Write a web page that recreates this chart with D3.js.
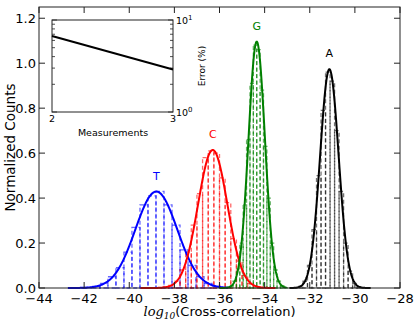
<!DOCTYPE html>
<html>
<head>
<meta charset="utf-8">
<script src="https://cdn.jsdelivr.net/npm/d3@7"></script>
<style>
body { margin: 0; background: #fff; }
text { font-family: "DejaVu Sans", sans-serif; }
</style>
</head>
<body>
<svg id="fig" width="415" height="321"></svg>
<script>
// bases and fitted gaussians
const bases = ["T", "C", "G", "A"];
const colors = ["#0000ff", "#ff0000", "#008000", "#000000"];
const fitMu = [-38.8, -36.3, -34.35, -31.13];
const fitSigma = [0.93, 0.65, 0.364, 0.41];

// histogram bins (first edge, width, heights)
const binStart = [-42.72, -39.5, -36.0, -32.9];
const binWidth = [0.355, 0.25, 0.15, 0.2];
const countsT = [0, 0.001, 0.003, 0.007, 0.02, 0.05, 0.09, 0.16, 0.27, 0.37, 0.41, 0.43, 0.37, 0.28, 0.17, 0.10, 0.05, 0.02, 0.008, 0.003];
const countsC = [0, 0, 0, 0.001, 0.004, 0.012, 0.03, 0.08, 0.16, 0.28, 0.42, 0.58, 0.61, 0.60, 0.49, 0.38, 0.22, 0.12, 0.055, 0.02, 0.008, 0.002, 0.001, 0];
const countsG = [0, 0.001, 0.003, 0.01, 0.03, 0.085, 0.2, 0.37, 0.66, 0.91, 1.08, 1.06, 0.88, 0.63, 0.4, 0.2, 0.08, 0.03, 0.01, 0.002];
const countsA = [0, 0.002, 0.008, 0.03, 0.1, 0.26, 0.5, 0.79, 0.96, 0.92, 0.7, 0.43, 0.2, 0.075, 0.02, 0.005, 0.001, 0];
const counts = [countsT, countsC, countsG, countsA];

const xTicks = [-44, -42, -40, -38, -36, -34, -32, -30, -28];
const yTicks = [0, 0.2, 0.4, 0.6, 0.8, 1.0, 1.2];

// inset: error vs measurements
const measurements = [2, 3];
const errorPct = [6.7, 2.9];

const svg = d3.select("#fig");
const axL = 39, axR = 400, axT = 7, axB = 288;

const x = d3.scaleLinear().domain([-44, -28]).range([axL, axR]);
const y = d3.scaleLinear().domain([0, 1.25]).range([axB, axT]);

// histograms as dashed outlined bars
bases.forEach((b, i) => {
  const bars = counts[i].map((h, k) => ({x0: binStart[i] + k * binWidth[i], h: h}));
  svg.append("g")
    .selectAll("rect")
    .data(bars)
    .join("rect")
    .attr("x", d => x(d.x0))
    .attr("y", d => y(d.h))
    .attr("width", x(binStart[i] + binWidth[i]) - x(binStart[i]))
    .attr("height", d => y(0) - y(d.h))
    .attr("fill", "none")
    .attr("stroke", colors[i])
    .attr("stroke-opacity", i === 3 ? 0.55 : 0.6)
    .attr("stroke-width", 1.3)
    .attr("stroke-dasharray", "4,2.5");
});

// fitted curves
bases.forEach((b, i) => {
  const lo = binStart[i], hi = binStart[i] + binWidth[i] * counts[i].length;
  const pts = d3.range(lo, hi, 0.02).map(v => {
    const z = (v - fitMu[i]) / fitSigma[i];
    return [v, Math.exp(-z * z / 2) / (fitSigma[i] * Math.sqrt(2 * Math.PI))];
  });
  svg.append("path")
    .attr("d", d3.line().x(d => x(d[0])).y(d => y(d[1]))(pts))
    .attr("fill", "none")
    .attr("stroke", colors[i])
    .attr("stroke-width", 2);

  const peak = 1 / (fitSigma[i] * Math.sqrt(2 * Math.PI));
  svg.append("text")
    .attr("x", x(fitMu[i]))
    .attr("y", y(peak) - 12)
    .attr("text-anchor", "middle")
    .style("font-size", "11px")
    .style("fill", colors[i])
    .text(b);
});

// axes frame and inward ticks
svg.append("rect")
  .attr("x", axL).attr("y", axT)
  .attr("width", axR - axL).attr("height", axB - axT)
  .attr("fill", "none").attr("stroke", "#222").attr("stroke-width", 1);

const tk = svg.append("g").attr("stroke", "#222").attr("stroke-width", 1);
xTicks.forEach(t => {
  tk.append("line").attr("x1", x(t)).attr("x2", x(t)).attr("y1", axB).attr("y2", axB - 6);
  tk.append("line").attr("x1", x(t)).attr("x2", x(t)).attr("y1", axT).attr("y2", axT + 6);
});
yTicks.forEach(t => {
  tk.append("line").attr("x1", axL).attr("x2", axL + 6).attr("y1", y(t)).attr("y2", y(t));
  tk.append("line").attr("x1", axR).attr("x2", axR - 6).attr("y1", y(t)).attr("y2", y(t));
});

svg.append("g").selectAll("text")
  .data(xTicks).join("text")
  .attr("x", d => x(d)).attr("y", axB + 14.5)
  .attr("text-anchor", "middle")
  .style("font-size", "13px")
  .text(d => d < 0 ? "\u2212" + Math.abs(d) : d);

svg.append("g").selectAll("text")
  .data(yTicks).join("text")
  .attr("x", axL - 3).attr("y", d => y(d) + 4.5)
  .attr("text-anchor", "end")
  .style("font-size", "13px")
  .text(d => d.toFixed(1));

// axis labels
svg.append("text")
  .attr("transform", `translate(15,${(axT + axB) / 2}) rotate(-90)`)
  .attr("text-anchor", "middle")
  .style("font-size", "13.5px")
  .text("Normalized Counts");

const xl = svg.append("text")
  .attr("x", (axL + axR) / 2).attr("y", 316)
  .attr("text-anchor", "middle")
  .style("font-size", "13px");
xl.append("tspan").style("font-family", "DejaVu Serif").style("font-style", "italic").text("log");
xl.append("tspan").attr("dy", 3).style("font-size", "9px").style("font-family", "DejaVu Serif").style("font-style", "italic").text("10");
xl.append("tspan").attr("dy", -3).text("(Cross-correlation)");

// inset
const ix = d3.scaleLinear().domain([2, 3]).range([52, 173]);
const iy = d3.scaleLog().domain([1, 10]).range([112, 20]);

svg.append("rect")
  .attr("x", 52).attr("y", 20).attr("width", 121).attr("height", 92)
  .attr("fill", "#fff").attr("stroke", "#222").attr("stroke-width", 1);

const itk = svg.append("g").attr("stroke", "#222").attr("stroke-width", 0.8);
[1, 2, 3, 4, 5, 6, 7, 8, 9, 10].forEach(v => {
  const len = (v === 1 || v === 10) ? 5 : 3;
  itk.append("line").attr("x1", 52).attr("x2", 52 + len).attr("y1", iy(v)).attr("y2", iy(v));
  itk.append("line").attr("x1", 173).attr("x2", 173 - len).attr("y1", iy(v)).attr("y2", iy(v));
});

svg.append("path")
  .attr("d", d3.line().x((d, k) => ix(measurements[k])).y(d => iy(d))(errorPct))
  .attr("fill", "none").attr("stroke", "#000").attr("stroke-width", 2);

svg.append("g").selectAll("text")
  .data(measurements).join("text")
  .attr("x", d => ix(d)).attr("y", 122)
  .attr("text-anchor", "middle")
  .style("font-size", "9.5px")
  .text(d => d);

svg.append("text")
  .attr("x", 113).attr("y", 136)
  .attr("text-anchor", "middle")
  .style("font-size", "9.5px")
  .text("Measurements");

[[10, "1"], [1, "0"]].forEach(([v, p]) => {
  const t = svg.append("text").attr("x", 176).attr("y", iy(v) + 4).style("font-size", "9.5px");
  t.append("tspan").text("10");
  t.append("tspan").attr("dy", -4).style("font-size", "7px").text(p);
});

svg.append("text")
  .attr("transform", "translate(205,66) rotate(-90)")
  .attr("text-anchor", "middle")
  .style("font-size", "9px")
  .text("Error (%)");
</script>
</body>
</html>
